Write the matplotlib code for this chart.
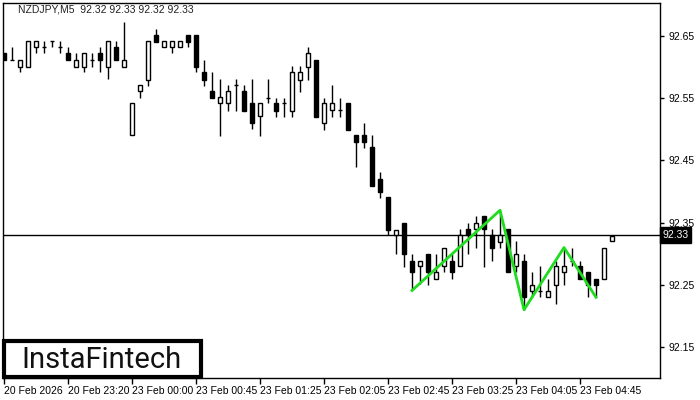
import matplotlib
matplotlib.use('Agg')
import matplotlib.pyplot as plt
import matplotlib.transforms as mtransforms
from matplotlib.patches import Rectangle
import numpy as np

# ---- data (NZDJPY M5) ----
opens = [92.622, 92.611, 92.601, 92.601, 92.632, 92.632, 92.642, 92.632, 92.622, 92.601,
         92.601, 92.611, 92.622, 92.601, 92.632, 92.601, 92.491, 92.562, 92.580, 92.652,
         92.632, 92.632, 92.632, 92.652, 92.652, 92.592, 92.562, 92.542, 92.542, 92.571,
         92.562, 92.542, 92.521, 92.551, 92.542, 92.542, 92.529, 92.580, 92.601, 92.611,
         92.511, 92.531, 92.531, 92.542, 92.491, 92.491, 92.471, 92.420, 92.391, 92.330,
         92.350, 92.289, 92.280, 92.299, 92.259, 92.280, 92.289, 92.280, 92.340, 92.340,
         92.361, 92.330, 92.319, 92.340, 92.280, 92.289, 92.240, 92.240, 92.230, 92.250,
         92.270, 92.289, 92.280, 92.270, 92.259, 92.259, 92.320]
highs = [92.622, 92.632, 92.611, 92.642, 92.642, 92.642, 92.642, 92.642, 92.632, 92.622,
         92.622, 92.622, 92.632, 92.642, 92.642, 92.672, 92.542, 92.571, 92.642, 92.661,
         92.642, 92.642, 92.642, 92.652, 92.652, 92.611, 92.592, 92.581, 92.571, 92.581,
         92.571, 92.581, 92.542, 92.581, 92.551, 92.551, 92.602, 92.602, 92.632, 92.611,
         92.551, 92.571, 92.551, 92.542, 92.491, 92.511, 92.491, 92.431, 92.391, 92.339,
         92.350, 92.299, 92.289, 92.299, 92.299, 92.310, 92.299, 92.340, 92.350, 92.361,
         92.361, 92.340, 92.370, 92.340, 92.320, 92.299, 92.270, 92.280, 92.259, 92.289,
         92.310, 92.310, 92.289, 92.270, 92.259, 92.310, 92.329]
lows = [92.611, 92.611, 92.592, 92.601, 92.622, 92.622, 92.632, 92.622, 92.611, 92.601,
        92.592, 92.601, 92.592, 92.581, 92.611, 92.601, 92.491, 92.551, 92.570, 92.641,
        92.632, 92.622, 92.632, 92.632, 92.592, 92.570, 92.551, 92.490, 92.529, 92.529,
        92.529, 92.500, 92.490, 92.542, 92.520, 92.520, 92.520, 92.560, 92.580, 92.520,
        92.499, 92.520, 92.520, 92.499, 92.440, 92.470, 92.409, 92.390, 92.330, 92.299,
        92.279, 92.241, 92.252, 92.250, 92.259, 92.270, 92.259, 92.280, 92.299, 92.310,
        92.279, 92.289, 92.310, 92.270, 92.270, 92.210, 92.230, 92.230, 92.230, 92.219,
        92.250, 92.280, 92.259, 92.230, 92.230, 92.259, 92.320]
closes = [92.611, 92.611, 92.611, 92.642, 92.642, 92.632, 92.642, 92.632, 92.611, 92.611,
          92.622, 92.611, 92.611, 92.642, 92.611, 92.611, 92.542, 92.571, 92.642, 92.641,
          92.642, 92.642, 92.642, 92.641, 92.601, 92.580, 92.551, 92.552, 92.562, 92.571,
          92.529, 92.511, 92.542, 92.551, 92.529, 92.542, 92.592, 92.592, 92.622, 92.520,
          92.542, 92.542, 92.531, 92.499, 92.480, 92.480, 92.409, 92.400, 92.339, 92.339,
          92.299, 92.270, 92.289, 92.270, 92.270, 92.310, 92.270, 92.330, 92.330, 92.350,
          92.340, 92.310, 92.330, 92.270, 92.299, 92.230, 92.250, 92.240, 92.240, 92.280,
          92.280, 92.289, 92.259, 92.250, 92.250, 92.310, 92.329]

# pattern zigzag (candle index, price)
pattern_idx = [51, 62, 65, 70, 74]
pattern_px = [92.241, 92.370, 92.210, 92.310, 92.230]

last_price = 92.33
title = 'NZDJPY,M5  92.32 92.33 92.32 92.33'

xtick_idx = [0, 8, 16, 24, 32, 40, 48, 56, 64, 72]
xtick_labels = ['20 Feb 2026', '20 Feb 23:20', '23 Feb 00:00', '23 Feb 00:45',
                '23 Feb 01:25', '23 Feb 02:05', '23 Feb 02:45', '23 Feb 03:25',
                '23 Feb 04:05', '23 Feb 04:45']
yticks = [92.15, 92.25, 92.35, 92.45, 92.55, 92.65]

plt.rcParams['font.family'] = ['Liberation Sans', 'DejaVu Sans']

W, H = 700, 400
fig = plt.figure(figsize=(7, 4), dpi=100)
ax = fig.add_axes([2.5 / W, 22 / H, 657.5 / W, 375.5 / H])

x = np.arange(len(opens))
o, h, l, c = map(np.array, (opens, highs, lows, closes))
bw = 0.6

ax.axhline(last_price, color='black', lw=1, zorder=1)

ax.vlines(x, l, h, color='black', lw=1, zorder=2)
for i in x:
    bot, top = min(o[i], c[i]), max(o[i], c[i])
    if top - bot < 0.002:
        ax.hlines(o[i], i - bw / 2, i + bw / 2, color='black', lw=1, zorder=3)
        continue
    fc = 'white' if c[i] > o[i] else 'black'
    ax.add_patch(Rectangle((i - bw / 2, bot), bw, top - bot, facecolor=fc,
                           edgecolor='black', lw=1, zorder=3))

ax.plot(pattern_idx, pattern_px, color='#1fdc1f', lw=2, zorder=4)

ax.set_xlim(-0.2, 82.0)
ax.set_ylim(92.1003, 92.7039)

ax.yaxis.tick_right()
ax.set_yticks(yticks)
ax.set_yticklabels([f'{v:.2f}' for v in yticks])
ax.tick_params(axis='y', direction='out', length=3, width=1, pad=3, labelsize=7.5)
ax.set_xticks(xtick_idx)
ax.set_xticklabels(xtick_labels, ha='left')
ax.tick_params(axis='x', direction='out', length=4, width=1, pad=2, labelsize=7.5)
for s in ax.spines.values():
    s.set_linewidth(1)

# current price tag
trans = mtransforms.blended_transform_factory(ax.transAxes, ax.transData)
ax.text(1.004, last_price, f'{last_price:.2f}', transform=trans, ha='left', va='center',
        fontsize=7.5, color='white', clip_on=False,
        bbox=dict(boxstyle='square,pad=0.25', facecolor='black', edgecolor='black'))

fig.text(18 / W, 1 - 10 / H, title, fontsize=7.5, color='#202020', va='center', ha='left')

# logo box
fig.patches.append(Rectangle((4 / W, 1 - 377 / H), 197 / W, 36 / H, transform=fig.transFigure,
                             facecolor='white', edgecolor='black', lw=3, zorder=5))
fig.text(101 / W, 1 - 360 / H, 'InstaFintech', fontsize=21, family='Roboto',
         fontweight='normal', color='#111111', ha='center', va='center', zorder=6)

fig.savefig('out.png', dpi=100)
